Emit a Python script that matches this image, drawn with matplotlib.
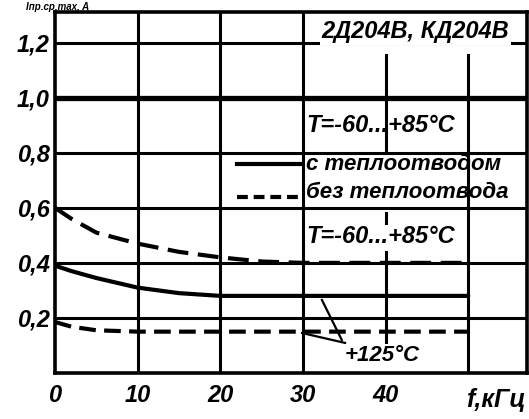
import matplotlib.pyplot as plt

plt.rcParams['font.family'] = ['Liberation Sans', 'DejaVu Sans']

# frequency, kHz
f = [0, 2, 5, 10, 15, 20, 25, 30, 40, 50]
# with heat sink, T=-60...+85 C
with_sink = [0.39, 0.37, 0.345, 0.31, 0.29, 0.28, 0.28, 0.28, 0.28, 0.28]
# without heat sink, T=-60...+85 C
no_sink = [0.6, 0.56, 0.51, 0.47, 0.44, 0.42, 0.405, 0.40, 0.40, 0.40]
# without heat sink, +125 C
no_sink_125 = [0.185, 0.168, 0.155, 0.15, 0.15, 0.15, 0.15, 0.15, 0.15, 0.15]

xticks = [0, 10, 20, 30, 40]
yticks = [0.2, 0.4, 0.6, 0.8, 1.0, 1.2]
ylabels = ['0,2', '0,4', '0,6', '0,8', '1,0', '1,2']

fnt = dict(weight='bold', style='italic')

fig = plt.figure(figsize=(5.29, 4.19), dpi=100)
ax = fig.add_axes([0.104, 0.110, 0.892, 0.862])
ax.set_xlim(0, 57.1)
ax.set_ylim(0, 1.313)

# grid
for y in [0.2, 0.4, 0.6, 0.8, 1.2]:
    ax.axhline(y, color='k', lw=2.2, zorder=1)
ax.axhline(1.0, color='k', lw=3.8, zorder=1)
for x in [10, 20, 30]:
    ax.axvline(x, color='k', lw=2.2, zorder=1)
ax.plot([40, 40], [1.156, 0.8], color='k', lw=2.2, zorder=1)
ax.plot([40, 40], [0.58, 0.54], color='k', lw=2.2, zorder=1)
ax.plot([40, 40], [0.44, 0.07], color='k', lw=2.2, zorder=1)
ax.plot([50, 50], [1.156, 0], color='k', lw=2.2, zorder=1)

for s in ax.spines.values():
    s.set_linewidth(2.6)

# curves
ax.plot(f, with_sink, color='k', lw=3.0, solid_capstyle='round', zorder=3)
ax.plot(f, no_sink, color='k', lw=3.0, dashes=(5, 2.3), zorder=3)
ax.plot(f, no_sink_125, color='k', lw=3.0, dashes=(4, 2), zorder=3)

# legend drawn as in the original
ax.plot([22, 29.7], [0.76, 0.76], color='k', lw=3.0, zorder=3)
ax.plot([22, 29.7], [0.64, 0.64], color='k', lw=3.0, dashes=(2.6, 1.4), zorder=3)
ax.text(30.4, 0.758, 'с теплоотводом', fontsize=16, va='center', ha='left', **fnt)
ax.text(30.4, 0.655, 'без теплоотвода', fontsize=16, va='center', ha='left', **fnt)

ax.text(30.4, 0.90, 'T=-60...+85°C', fontsize=17, va='center', ha='left', **fnt)
ax.text(30.4, 0.495, 'T=-60...+85°C', fontsize=17, va='center', ha='left',
        bbox=dict(facecolor='white', edgecolor='none', pad=0.5), zorder=4, **fnt)
ax.text(43.6, 1.24, '2Д204В, КД204В', fontsize=17, va='center', ha='center',
        bbox=dict(facecolor='white', edgecolor='none', pad=1), zorder=4, **fnt)

# +125 C annotation
ax.plot([32.3, 34.7], [0.265, 0.12], color='k', lw=1.6, zorder=3)
ax.plot([29.9, 35.1], [0.145, 0.109], color='k', lw=1.6, zorder=3)
ax.text(39.6, 0.065, '+125°C', fontsize=16, va='center', ha='center',
        bbox=dict(facecolor='white', edgecolor='none', pad=0.5), zorder=4, **fnt)

ax.set_xticks(xticks)
ax.set_xticklabels([str(v) for v in xticks], fontsize=17, **fnt)
ax.set_yticks(yticks)
ax.set_yticklabels(ylabels, fontsize=17, **fnt)
ax.tick_params(axis='x', length=0, pad=8)
ax.tick_params(axis='y', length=0, pad=4)
ax.text(53.3, -0.1, 'f,кГц', fontsize=18, va='center', ha='center', **fnt)

fig.text(0.05, 0.977, 'Iпр.ср.max, A', fontsize=7, va='baseline', ha='left', **fnt)

fig.savefig('out.png', dpi=100)
